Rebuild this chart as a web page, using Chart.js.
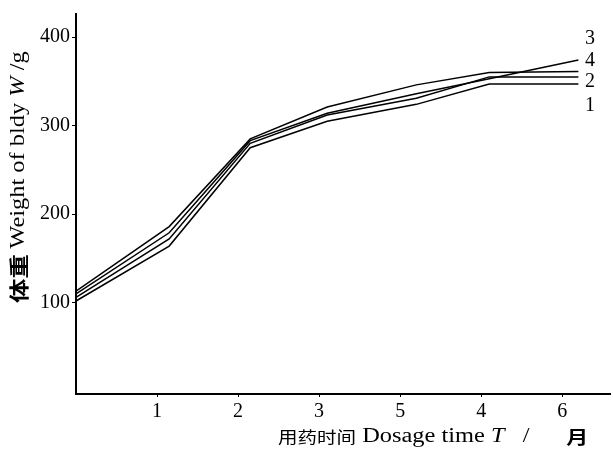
<!DOCTYPE html>
<html>
<head>
<meta charset="utf-8">
<script src="https://cdn.jsdelivr.net/npm/chart.js@4.4.1/dist/chart.umd.min.js"></script>
<style>
  html, body { margin: 0; padding: 0; background: #fff; }
  #wrap { width: 613px; height: 449px; }
</style>
</head>
<body>
<div id="wrap"><canvas id="weightChart"></canvas></div>
<script>
// dosage time positions (months) where the curves bend
const timePoints = [0, 1.15, 2.15, 3.1, 4.2, 5.1, 6.2];

// body weight (g) of the four groups
const group1 = [102, 164, 275, 305, 324, 347, 347];
const group2 = [106, 172, 280, 312, 331, 355, 355];
const group3 = [110, 179, 283, 314, 336, 353, 374];
const group4 = [113, 186, 285, 321, 346, 360, 361];

// tick labels as printed on the x axis (in that order)
const xTickLabels = ['', '1', '2', '3', '5', '4', '6'];
const yTickValues = [100, 200, 300, 400];

// curve numbers at the right end and the weight they sit at
const curveNames = ['3', '4', '2', '1'];
const curveNameValues = [398, 373, 350, 322];

var serif = "'Liberation Serif', 'DejaVu Serif', serif";
var cjk = "'Noto Sans CJK SC', sans-serif";

function toPoints(values) {
  return values.map(function (v, i) { return { x: timePoints[i], y: v }; });
}

function lineSet(label, values) {
  return {
    label: label,
    data: toPoints(values),
    borderColor: '#000',
    borderWidth: 1.5,
    pointRadius: 0,
    fill: false,
    tension: 0
  };
}

// draw a row of text pieces with their own fonts, stretched a bit
function drawPieces(c, parts, stretch) {
  c.scale(stretch, 1);
  var x = 0;
  parts.forEach(function (p) {
    c.font = p[0];
    c.fillText(p[1], x, 0);
    x += c.measureText(p[1]).width;
  });
}

// draws the axis titles and the curve numbers
const textPlugin = {
  id: 'textPlugin',
  afterDraw: function (chart) {
    var c = chart.ctx;
    var ys = chart.scales.y;
    c.save();
    c.fillStyle = '#000';
    c.textBaseline = 'middle';

    // curve numbers
    c.font = '20px ' + serif;
    c.textAlign = 'left';
    curveNames.forEach(function (n, i) {
      c.fillText(n, 585, ys.getPixelForValue(curveNameValues[i]));
    });

    // y title, rotated
    c.translate(19, 303);
    c.rotate(-Math.PI / 2);
    drawPieces(c, [
      ['bold 20px ' + cjk, '体重 '],
      ['20px ' + serif, 'Weight of bldy '],
      ['italic 20px ' + serif, 'W'],
      ['20px ' + serif, ' /g']
    ], 1.22);
    c.setTransform(1, 0, 0, 1, 0, 0);

    // x title
    c.translate(278, 437);
    drawPieces(c, [
      ['16px ' + cjk, '用药时间'],
      ['20px ' + serif, ' Dosage time '],
      ['italic 20px ' + serif, 'T'],
      ['20px ' + serif, '   /      '],
      ['bold 18px ' + cjk, '月']
    ], 1.22);
    c.restore();
  }
};

var ctx = document.getElementById('weightChart').getContext('2d');

new Chart(ctx, {
  type: 'line',
  data: {
    datasets: [
      lineSet('1', group1),
      lineSet('2', group2),
      lineSet('3', group3),
      lineSet('4', group4)
    ]
  },
  options: {
    responsive: true,
    maintainAspectRatio: false,
    animation: false,
    layout: { padding: { top: 10, right: 3, left: 0, bottom: 0 } },
    plugins: {
      legend: { display: false },
      tooltip: { enabled: false }
    },
    scales: {
      x: {
        type: 'linear',
        min: 0,
        max: 6.59,
        afterBuildTicks: function (axis) {
          axis.ticks = [1, 2, 3, 4, 5, 6].map(function (v) { return { value: v }; });
        },
        afterFit: function (axis) { axis.height = 55; },
        ticks: {
          autoSkip: false,
          maxRotation: 0,
          padding: 3,
          color: '#000',
          font: { family: serif, size: 20 },
          callback: function (v) { return xTickLabels[v]; }
        },
        grid: { drawOnChartArea: false, drawTicks: true, tickLength: 3, color: '#000' },
        border: { color: '#000', width: 2 }
      },
      y: {
        min: -3,
        max: 426,
        afterBuildTicks: function (axis) {
          axis.ticks = yTickValues.map(function (v) { return { value: v }; });
        },
        afterFit: function (axis) { axis.width = 76; },
        ticks: {
          padding: 2,
          color: '#000',
          font: { family: serif, size: 20 }
        },
        grid: { drawOnChartArea: false, drawTicks: true, tickLength: 4, color: '#000' },
        border: { color: '#000', width: 2 }
      }
    }
  },
  plugins: [textPlugin]
});
</script>
</body>
</html>
